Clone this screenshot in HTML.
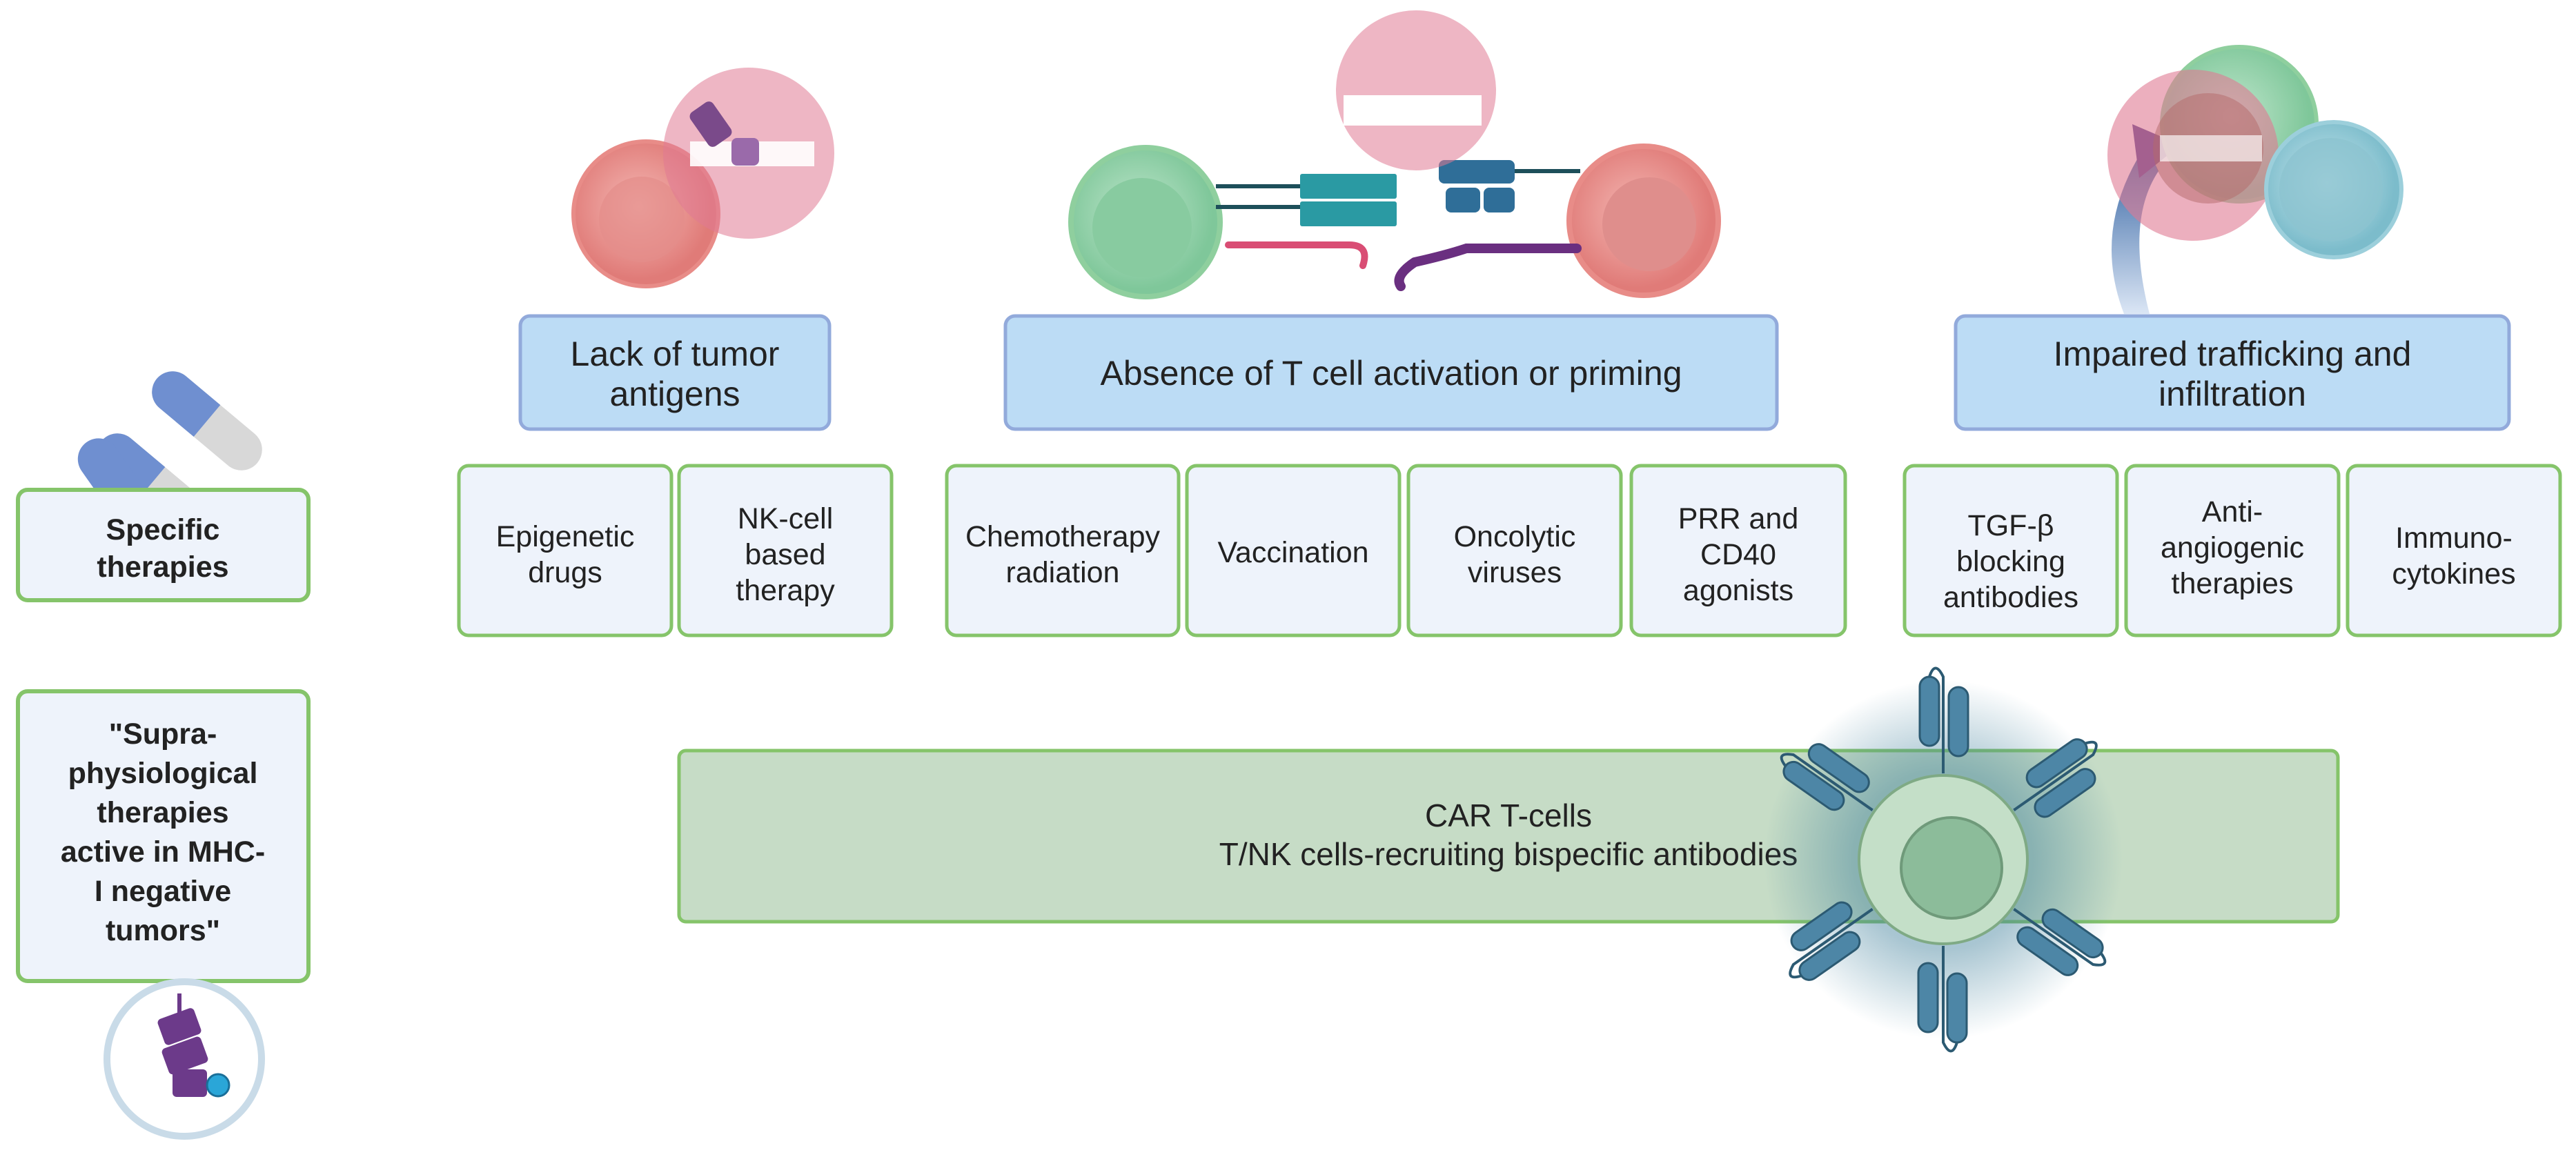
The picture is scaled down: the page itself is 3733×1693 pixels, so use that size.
<!DOCTYPE html>
<html><head><meta charset="utf-8"><style>
html,body{margin:0;padding:0;background:#fff;}
svg{display:block;}
text{font-family:"Liberation Sans",sans-serif;fill:#222;}
</style></head><body>
<svg width="3733" height="1693" viewBox="0 0 3733 1693" xmlns="http://www.w3.org/2000/svg">
<defs>
<radialGradient id="glow"><stop offset="0.5" stop-color="#3f7f9a" stop-opacity="0.45"/><stop offset="1" stop-color="#3f7f9a" stop-opacity="0"/></radialGradient>
<radialGradient id="gcell" cx="0.45" cy="0.45"><stop offset="0" stop-color="#bfe6cc"/><stop offset="1" stop-color="#7fc79a"/></radialGradient>
<radialGradient id="rcell" cx="0.45" cy="0.45"><stop offset="0" stop-color="#f4b8b4"/><stop offset="1" stop-color="#e07b78"/></radialGradient>
<radialGradient id="bcell" cx="0.45" cy="0.45"><stop offset="0" stop-color="#cbe9ef"/><stop offset="1" stop-color="#7cbccb"/></radialGradient>
<linearGradient id="arr" x1="0" y1="1" x2="0" y2="0"><stop offset="0" stop-color="#dbe6f5"/><stop offset="1" stop-color="#2c5d9e"/></linearGradient>
<g id="ab">
<rect x="-34" y="-140" width="28" height="100" rx="14" fill="#4d86a6" stroke="#2c5a72" stroke-width="3"/>
<rect x="8" y="-125" width="28" height="100" rx="14" fill="#4d86a6" stroke="#2c5a72" stroke-width="3"/>
<path d="M-20 -140 Q-12 -165 0 -140 L0 0" fill="none" stroke="#2c5a72" stroke-width="4"/>
</g>
</defs>

<!-- pills -->
<g transform="translate(300,610) rotate(40)"><rect x="-95" y="-30" width="190" height="60" rx="30" fill="#d8d8d8"/><path d="M-65 -30 H0 V30 H-65 A30 30 0 0 1 -65 -30Z" fill="#6f8fd0"/></g>
<g transform="translate(220,700) rotate(40)"><rect x="-95" y="-30" width="190" height="60" rx="30" fill="#d8d8d8"/><path d="M-65 -30 H0 V30 H-65 A30 30 0 0 1 -65 -30Z" fill="#6f8fd0"/></g>
<g transform="translate(160,690) rotate(55)"><rect x="-60" y="-30" width="120" height="60" rx="30" fill="#6f8fd0"/></g>

<!-- left boxes -->
<rect x="26" y="710" width="421" height="160" rx="14" fill="#eef3fb" stroke="#85c46a" stroke-width="6"/>
<text x="236" y="782" font-size="43" font-weight="bold" text-anchor="middle">Specific</text>
<text x="236" y="836" font-size="43" font-weight="bold" text-anchor="middle">therapies</text>
<rect x="26" y="1002" width="421" height="420" rx="14" fill="#eef3fb" stroke="#85c46a" stroke-width="6"/>
<g font-size="43" font-weight="bold" text-anchor="middle">
<text x="236" y="1078">"Supra-</text><text x="236" y="1135">physiological</text><text x="236" y="1192">therapies</text><text x="236" y="1249">active in MHC-</text><text x="236" y="1306">I negative</text><text x="236" y="1363">tumors"</text></g>
<circle cx="267" cy="1535" r="112" fill="#fff" stroke="#c9dbe8" stroke-width="10"/>
<path d="M260 1440 L260 1470" stroke="#6c3a8a" stroke-width="6"/>
<rect x="232" y="1468" width="56" height="40" rx="6" fill="#6c3a8a" transform="rotate(-20 260 1488)"/>
<rect x="238" y="1510" width="60" height="40" rx="6" fill="#6c3a8a" transform="rotate(-20 268 1530)"/>
<rect x="250" y="1550" width="50" height="40" rx="6" fill="#6c3a8a"/>
<circle cx="316" cy="1573" r="16" fill="#2aa6d8" stroke="#1a6f99" stroke-width="3"/>

<!-- top illustrations: Lack -->
<circle cx="936" cy="310" r="105" fill="url(#rcell)" stroke="#e88c88" stroke-width="6"/>
<circle cx="930" cy="318" r="62" fill="#e48d8a" opacity="0.7"/>
<circle cx="1085" cy="222" r="124" fill="#e07a93" opacity="0.55"/>
<rect x="1000" y="205" width="180" height="36" fill="#fff" opacity="0.9"/>
<rect x="1010" y="150" width="40" height="60" rx="8" fill="#7a4a8a" transform="rotate(-35 1030 180)"/>
<rect x="1060" y="200" width="40" height="40" rx="8" fill="#9a6aaa"/>

<!-- Absence -->
<circle cx="1660" cy="322" r="108" fill="url(#gcell)" stroke="#8fcf9e" stroke-width="8"/>
<circle cx="1655" cy="330" r="72" fill="#88cba0"/>
<circle cx="2382" cy="320" r="108" fill="url(#rcell)" stroke="#e88c88" stroke-width="8"/>
<circle cx="2390" cy="325" r="68" fill="#df8e8c"/>
<path d="M1762 270 H1890 M1762 300 H1890" stroke="#1d4f5a" stroke-width="6"/>
<rect x="1884" y="252" width="140" height="36" rx="3" fill="#2a9aa3"/>
<rect x="1884" y="292" width="140" height="36" rx="3" fill="#2a9aa3"/>
<rect x="2085" y="232" width="110" height="34" rx="8" fill="#2f6e98"/>
<rect x="2095" y="272" width="50" height="36" rx="8" fill="#2f6e98"/>
<rect x="2150" y="272" width="45" height="36" rx="8" fill="#2f6e98"/>
<path d="M2195 248 H2290" stroke="#1d4f5a" stroke-width="6"/>
<path d="M1780 355 H1955 Q1985 355 1975 385" fill="none" stroke="#d94d74" stroke-width="10" stroke-linecap="round"/>
<path d="M2285 360 H2125 Q2095 370 2050 380 Q2020 400 2030 415" fill="none" stroke="#6a2f80" stroke-width="14" stroke-linecap="round"/>
<circle cx="2052" cy="131" r="116" fill="#e07a93" opacity="0.55"/>
<rect x="1947" y="138" width="200" height="44" fill="#fff"/>

<!-- Impaired -->
<path d="M3078 455 Q3030 330 3110 210 L3128 248 Q3080 320 3115 455 Z" fill="url(#arr)"/>
<polygon points="3090,180 3160,210 3100,258" fill="#4b3a8a"/>
<circle cx="3245" cy="180" r="112" fill="url(#gcell)" stroke="#8fcf9e" stroke-width="6"/>
<circle cx="3178" cy="225" r="124" fill="#e07a93" opacity="0.6"/>
<circle cx="3200" cy="215" r="80" fill="#b36a6a" opacity="0.5"/>
<rect x="3130" y="196" width="148" height="38" fill="#fff" opacity="0.65"/>
<circle cx="3382" cy="275" r="98" fill="url(#bcell)" stroke="#9ccfdb" stroke-width="6"/>
<circle cx="3378" cy="275" r="75" fill="#8cc3cf" opacity="0.8"/>

<!-- header boxes -->
<g fill="#bcdcf5" stroke="#92aadb" stroke-width="5">
<rect x="754" y="458" width="448" height="164" rx="14"/>
<rect x="1457" y="458" width="1118" height="164" rx="14"/>
<rect x="2834" y="458" width="802" height="164" rx="14"/>
</g>
<g font-size="50" text-anchor="middle">
<text x="978" y="530">Lack of tumor</text><text x="978" y="588">antigens</text>
<text x="2016" y="558">Absence of T cell activation or priming</text>
<text x="3235" y="530">Impaired trafficking and</text><text x="3235" y="588">infiltration</text>
</g>

<!-- therapy boxes -->
<g fill="#eef3fb" stroke="#85c46a" stroke-width="5">
<rect x="665" y="675" width="308" height="246" rx="14"/>
<rect x="984" y="675" width="308" height="246" rx="14"/>
<rect x="1372" y="675" width="336" height="246" rx="14"/>
<rect x="1720" y="675" width="308" height="246" rx="14"/>
<rect x="2041" y="675" width="308" height="246" rx="14"/>
<rect x="2364" y="675" width="310" height="246" rx="14"/>
<rect x="2760" y="675" width="308" height="246" rx="14"/>
<rect x="3081" y="675" width="308" height="246" rx="14"/>
<rect x="3402" y="675" width="308" height="246" rx="14"/>
</g>
<g font-size="43" text-anchor="middle">
<text x="819" y="792">Epigenetic</text><text x="819" y="844">drugs</text>
<text x="1138" y="766">NK-cell</text><text x="1138" y="818">based</text><text x="1138" y="870">therapy</text>
<text x="1540" y="792">Chemotherapy</text><text x="1540" y="844">radiation</text>
<text x="1874" y="815">Vaccination</text>
<text x="2195" y="792">Oncolytic</text><text x="2195" y="844">viruses</text>
<text x="2519" y="766">PRR and</text><text x="2519" y="818">CD40</text><text x="2519" y="870">agonists</text>
<text x="2914" y="776">TGF-β</text><text x="2914" y="828">blocking</text><text x="2914" y="880">antibodies</text>
<text x="3235" y="756">Anti-</text><text x="3235" y="808">angiogenic</text><text x="3235" y="860">therapies</text>
<text x="3556" y="794">Immuno-</text><text x="3556" y="846">cytokines</text>
</g>

<!-- CAR box -->
<rect x="984" y="1088" width="2404" height="248" rx="10" fill="#c6dcc6" stroke="#85c46a" stroke-width="5"/>
<text x="2186" y="1198" font-size="46" text-anchor="middle">CAR T-cells</text>
<text x="2186" y="1254" font-size="46" text-anchor="middle">T/NK cells-recruiting bispecific antibodies</text>
<circle cx="2816" cy="1246" r="260" fill="url(#glow)"/>
<g>
<use href="#ab" transform="translate(2816,1246) rotate(0) translate(0,-125)"/>
<use href="#ab" transform="translate(2816,1246) rotate(55) translate(0,-125)"/>
<use href="#ab" transform="translate(2816,1246) rotate(125) translate(0,-125)"/>
<use href="#ab" transform="translate(2816,1246) rotate(180) translate(0,-125)"/>
<use href="#ab" transform="translate(2816,1246) rotate(235) translate(0,-125)"/>
<use href="#ab" transform="translate(2816,1246) rotate(305) translate(0,-125)"/>
</g>
<circle cx="2816" cy="1246" r="122" fill="#c4dfc8" stroke="#7faa85" stroke-width="4"/>
<circle cx="2828" cy="1258" r="73" fill="#8cbc9a" stroke="#6f9a7a" stroke-width="4"/>
</svg>
</body></html>
